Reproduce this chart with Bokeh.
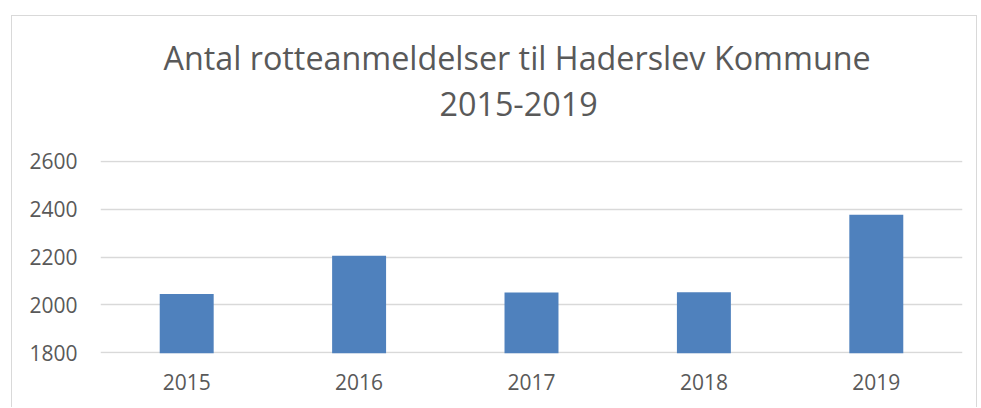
from bokeh.plotting import figure
from bokeh.models import Title, Range1d, FixedTicker
from bokeh.embed import file_html
from bokeh.resources import INLINE

years = ["2015", "2016", "2017", "2018", "2019"]
reports = [2046, 2205, 2052, 2053, 2376]
y_ticks = [1800, 2000, 2200, 2400, 2600]
title_line1 = "Antal rotteanmeldelser til Haderslev Kommune"
title_line2 = "2015-2019"

FONT = "Open Sans"
GRAY = "#595959"

p = figure(x_range=years, y_range=Range1d(1797, 2603),
           width=966, height=392, output_backend="svg", toolbar_location=None,
           min_border_left=88, min_border_right=16, min_border_top=144, min_border_bottom=55,
           margin=(15, 0, 0, 11),
           styles={"border-left": "1px solid #d9d9d9", "border-top": "1px solid #d9d9d9",
                   "border-right": "1px solid #d9d9d9"})
p.title = None

p.vbar(x=years, top=reports, bottom=1797, width=0.313, color="#4f81bd", line_color=None)

spacer = Title(text=".", text_font_size="1px", text_color="white", standoff=31)
t2 = Title(text=title_line2, align="left", offset=339, text_font=FONT, text_font_size="32.3px",
           text_color=GRAY, text_font_style="normal", standoff=22)
t1 = Title(text=title_line1, align="left", offset=63, text_font=FONT, text_font_size="32.3px",
           text_color=GRAY, text_font_style="normal", standoff=0)
p.add_layout(spacer, "above")
p.add_layout(t2, "above")
p.add_layout(t1, "above")

p.outline_line_color = None
p.xgrid.grid_line_color = None
p.ygrid.grid_line_color = "#d9d9d9"
p.ygrid.grid_line_width = 1.5
p.yaxis.ticker = FixedTicker(ticks=y_ticks)

for ax in (p.xaxis, p.yaxis):
    ax.axis_line_color = None
    ax.major_tick_line_color = None
    ax.minor_tick_line_color = None
    ax.major_tick_out = 0
    ax.major_tick_in = 0
    ax.major_label_text_font = FONT
    ax.major_label_text_font_size = "21px"
    ax.major_label_text_color = GRAY
p.xaxis.major_label_standoff = 20
p.yaxis.major_label_standoff = 23

open("out.html", "w").write(file_html(p, INLINE))
